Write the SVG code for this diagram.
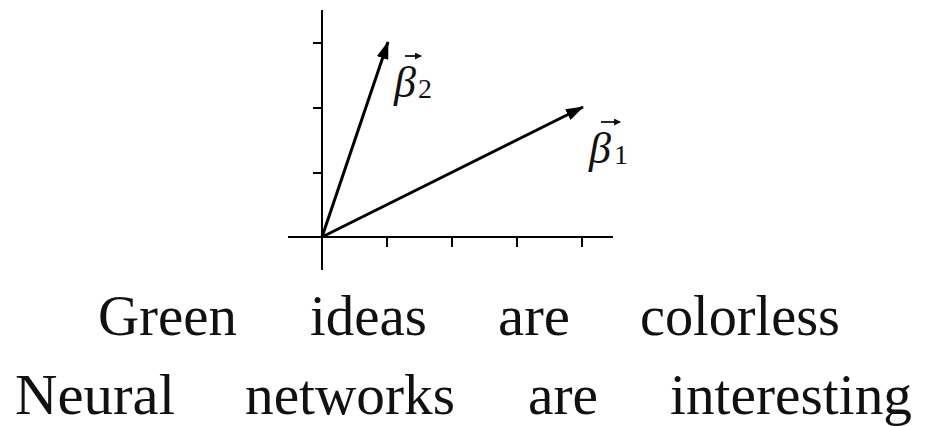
<svg xmlns="http://www.w3.org/2000/svg" width="927" height="426" viewBox="0 0 927 426">
<style>
.axis{stroke:#000;stroke-width:2;fill:none}
.vec{stroke:#000;stroke-width:3;fill:none}
.word{font-family:"Liberation Serif","DejaVu Serif",serif;font-size:56px;fill:#111}
.beta{font-family:"Liberation Serif","DejaVu Serif",serif;font-style:italic;font-size:44px;fill:#111}
.sub{font-family:"Liberation Serif","DejaVu Serif",serif;font-size:28px;fill:#111}
.acc{stroke:#111;stroke-width:1.8;fill:none}
</style>
<defs>
<marker id="ah" viewBox="0 0 18 12" refX="17" refY="6" markerWidth="18" markerHeight="12" markerUnits="userSpaceOnUse" orient="auto">
<path d="M0,0 L18,6 L0,12 Z" fill="#000"/>
</marker>
<marker id="acch" viewBox="0 0 7 7" refX="6" refY="3.5" markerWidth="7" markerHeight="7" markerUnits="userSpaceOnUse" orient="auto">
<path d="M0,0 L7,3.5 L0,7 Z" fill="#111"/>
</marker>
</defs>
<g id="axes">
<line class="axis" x1="322" y1="10" x2="322" y2="270"/>
<line class="axis" x1="288" y1="237" x2="613" y2="237"/>
<path class="axis" d="M313,43H322M313,108H322M313,173H322M387,237V247M452,237V247M517,237V247M582,237V247"/>
</g>
<g id="connectors">
<line class="vec" x1="322" y1="237" x2="388" y2="42" marker-end="url(#ah)"/>
<line class="vec" x1="322" y1="237" x2="583" y2="107" marker-end="url(#ah)"/>
</g>
<g id="beta2">
<text class="beta" x="394" y="97">β</text>
<text class="sub" x="418" y="98">2</text>
<line class="acc" x1="405" y1="56" x2="421" y2="56" marker-end="url(#acch)"/>
</g>
<g id="beta1">
<text class="beta" x="589" y="163">β</text>
<text class="sub" x="614" y="164">1</text>
<line class="acc" x1="601" y1="122" x2="620" y2="122" marker-end="url(#acch)"/>
</g>
<g id="sentence1">
<text class="word" x="98" y="335" textLength="139" lengthAdjust="spacingAndGlyphs">Green</text>
<text class="word" x="310" y="335" textLength="117" lengthAdjust="spacingAndGlyphs">ideas</text>
<text class="word" x="498" y="335" textLength="72" lengthAdjust="spacingAndGlyphs">are</text>
<text class="word" x="640" y="335" textLength="200" lengthAdjust="spacingAndGlyphs">colorless</text>
</g>
<g id="sentence2">
<text class="word" x="15" y="414" textLength="160" lengthAdjust="spacingAndGlyphs">Neural</text>
<text class="word" x="245" y="414" textLength="210" lengthAdjust="spacingAndGlyphs">networks</text>
<text class="word" x="528" y="414" textLength="70" lengthAdjust="spacingAndGlyphs">are</text>
<text class="word" x="670" y="414" textLength="242" lengthAdjust="spacingAndGlyphs">interesting</text>
</g>
</svg>
